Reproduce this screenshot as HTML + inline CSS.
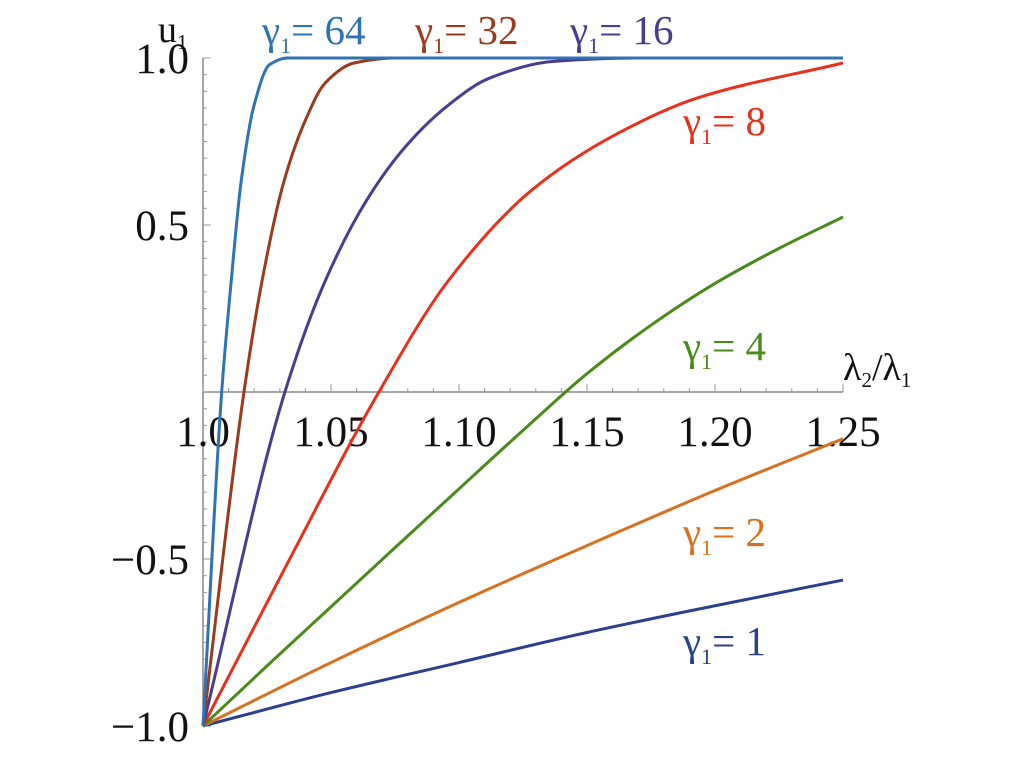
<!DOCTYPE html>
<html><head><meta charset="utf-8"><style>
html,body{margin:0;padding:0;background:#fff;}
svg{display:block;font-family:"Liberation Serif",serif;}
</style></head><body>
<svg id="chart" width="1024" height="768" viewBox="0 0 1024 768" xmlns="http://www.w3.org/2000/svg"></svg>
<script>
const xTicks=[1.0,1.05,1.10,1.15,1.20,1.25];
const xTickLabels=["1.0","1.05","1.10","1.15","1.20","1.25"];
const yTicks=[-1,-0.5,0.5,1];
const yTickLabels=["\u22121.0","\u22120.5","0.5","1.0"];
const gammas=[1,2,4,8,16,32,64];
const colors=["#2b3f8f","#d9701e","#4a8a1a","#e8301c","#4a3d8f","#9b3a1e","#2e74b5"];
const lam1=[1.0,1.05,1.10,1.15,1.20,1.25];
const u1=[-1,-0.90,-0.81,-0.72,-0.64,-0.563];
const lam2=[1.0,1.05,1.10,1.15,1.20,1.25];
const u2=[-1,-0.81,-0.63,-0.46,-0.295,-0.14];
const lam4=[1.0,1.025,1.05,1.075,1.10,1.125,1.15,1.175,1.20,1.225,1.25];
const u4=[-1,-0.82,-0.643,-0.466,-0.29,-0.115,0.055,0.2,0.325,0.43,0.524];
const lam8=[1.0,1.0325,1.0687,1.096,1.1285,1.161,1.193,1.25];
const u8=[-1,-0.52,0,0.335,0.605,0.77,0.88,0.985];
const lam16=[1.0,1.032,1.0476,1.064,1.0797,1.096,1.112,1.137,1.17,1.25];
const u16=[-1,0,0.33,0.575,0.74,0.86,0.94,0.99,1,1];
const lam32=[1.0,1.016,1.023,1.0316,1.0398,1.0477,1.059,1.075,1.25];
const u32=[-1,0,0.33,0.63,0.81,0.925,0.985,1,1];
const lam64=[1.0,1.0073,1.011,1.0149,1.020,1.026,1.033,1.25];
const u64=[-1,0,0.33,0.63,0.86,0.98,1,1];
const seriesX=[lam1,lam2,lam4,lam8,lam16,lam32,lam64];
const seriesY=[u1,u2,u4,u8,u16,u32,u64];

const NS="http://www.w3.org/2000/svg";
const svg=document.getElementById('chart');
const X0=203,X1=843,Y0=392,YS=334;
function sx(v){return X0+(v-1)/(0.25)*(X1-X0);}
function sy(v){return Y0-v*YS;}
function mk(tag,attrs,parent){const e=document.createElementNS(NS,tag);for(const k in attrs)e.setAttribute(k,attrs[k]);(parent||svg).appendChild(e);return e;}

const ax=mk('line',{x1:X0,y1:Y0,x2:X1,y2:Y0,stroke:'#888','stroke-width':1.5});


const ay=mk('line',{x1:X0,y1:sy(-1),x2:X0,y2:sy(1),stroke:'#888','stroke-width':1.5});


for(let i=0;i<=25;i++){
  const v=1+i*0.01,maj=i%5===0;
  const t=mk('line',{x1:sx(v),y1:Y0,x2:sx(v),y2:Y0-(maj?8:4),stroke:'#999','stroke-width':1});
  
  
}
for(let i=-20;i<=20;i++){
  const v=i*0.05,maj=i%10===0;
  const t=mk('line',{x1:X0,y1:sy(v),x2:X0+(maj?8:4),y2:sy(v),stroke:'#999','stroke-width':1});
  
  
}
xTicks.forEach((v,i)=>{
  const t=mk('text',{x:sx(v),y:446,'font-size':43,'text-anchor':'middle',fill:'#111'});
  t.textContent=xTickLabels[i];
  
  
});
yTicks.forEach((v,i)=>{
  const t=mk('text',{x:189,y:sy(v)+15,'font-size':43,'text-anchor':'end',fill:'#111'});
  t.textContent=yTickLabels[i];
  
  
});
function mono(xs,ys){
  const n=xs.length,d=[],m=[];
  for(let i=0;i<n-1;i++)d.push((ys[i+1]-ys[i])/(xs[i+1]-xs[i]));
  m[0]=d[0];m[n-1]=d[n-2];
  for(let i=1;i<n-1;i++){
    if(d[i-1]*d[i]<=0)m[i]=0;
    else{const w1=2*(xs[i+1]-xs[i])+(xs[i]-xs[i-1]),w2=(xs[i+1]-xs[i])+2*(xs[i]-xs[i-1]);m[i]=(w1+w2)/(w1/d[i-1]+w2/d[i]);}
  }
  let s='';
  for(let i=0;i<n-1;i++){
    const h=xs[i+1]-xs[i];
    const p0=[sx(xs[i]),sy(ys[i])],p1=[sx(xs[i+1]),sy(ys[i+1])];
    const c1=[sx(xs[i]+h/3),sy(ys[i]+m[i]*h/3)],c2=[sx(xs[i+1]-h/3),sy(ys[i+1]-m[i+1]*h/3)];
    if(i===0)s+=`M${p0[0]},${p0[1]}`;
    s+=` C${c1[0]},${c1[1]} ${c2[0]},${c2[1]} ${p1[0]},${p1[1]}`;
  }
  return s;
}
gammas.forEach((g,i)=>{
  const pth=mk('path',{d:mono(seriesX[i],seriesY[i]),fill:'none',stroke:colors[i],'stroke-width':3,'stroke-linejoin':'round'});
  
  
});
const labPos=[[683,655],[683,546],[683,360],[683,135],[570,44],[415,44],[262,44]];
gammas.forEach((g,i)=>{
  const t=mk('text',{x:labPos[i][0],y:labPos[i][1],'font-size':41,fill:colors[i]});
  t.innerHTML=`\u03b3<tspan font-size="22" dy="9">1</tspan><tspan dy="-9">= ${g}</tspan>`;
  
  
});
const ut=mk('text',{x:158,y:42,'font-size':38,fill:'#111'});
ut.innerHTML='u<tspan font-size="21" dy="7">1</tspan>';


const xt=mk('text',{x:843,y:380,'font-size':38,fill:'#111'});
xt.innerHTML='\u03bb<tspan font-size="21" dy="7">2</tspan><tspan dy="-7">/\u03bb</tspan><tspan font-size="21" dy="7">1</tspan>';


</script>
</body></html>
